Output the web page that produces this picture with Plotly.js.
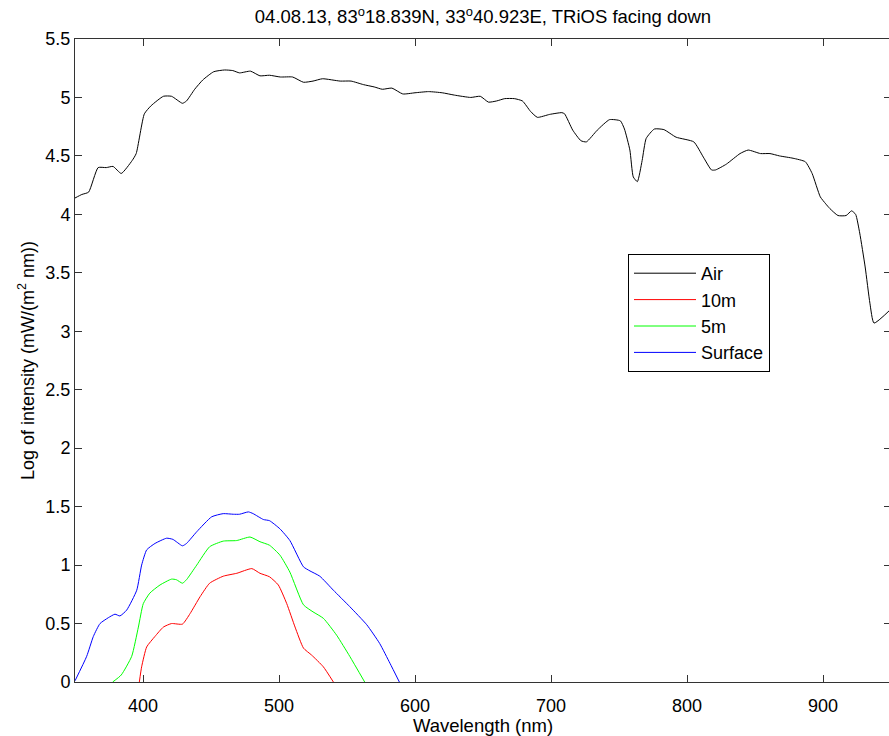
<!DOCTYPE html>
<html>
<head>
<meta charset="utf-8">
<script src="https://cdn.plot.ly/plotly-3.0.1.min.js"></script>
<style>
html, body { margin: 0; padding: 0; background: #fff; overflow: hidden; }
#chart { width: 892px; height: 736px; }
</style>
</head>
<body>
<div id="chart"></div>
<script>
// Wavelength (nm) and log intensity values
const airX = [350, 355, 360, 367, 373, 378, 384, 392, 395, 401, 406, 415, 421, 429, 432, 438, 444, 452, 460, 466, 471, 479, 486, 493, 501, 510, 518, 525, 532, 545, 553, 562, 570, 576, 583, 591, 600, 610, 620, 629, 641, 648, 654, 660, 666, 673, 679, 685, 690, 699, 708, 710, 716, 722, 726, 734, 743, 751, 754, 758, 760.5, 763.5, 767, 770, 776, 783, 792, 805, 812, 818, 821, 829, 839, 845, 854, 861, 868, 878, 887, 892, 898, 902, 905, 911, 917, 921, 924, 927, 931, 934.5, 937.5, 950];
const airY = [4.14, 4.17, 4.19, 4.40, 4.40, 4.41, 4.35, 4.46, 4.52, 4.86, 4.93, 5.01, 5.01, 4.95, 4.97, 5.07, 5.15, 5.22, 5.235, 5.23, 5.21, 5.225, 5.185, 5.19, 5.175, 5.175, 5.13, 5.14, 5.16, 5.14, 5.14, 5.11, 5.09, 5.07, 5.08, 5.03, 5.04, 5.05, 5.04, 5.02, 5.00, 5.01, 4.96, 4.97, 4.99, 4.99, 4.97, 4.88, 4.83, 4.855, 4.87, 4.86, 4.72, 4.63, 4.62, 4.72, 4.81, 4.80, 4.73, 4.55, 4.32, 4.28, 4.46, 4.65, 4.73, 4.725, 4.66, 4.62, 4.49, 4.38, 4.38, 4.43, 4.52, 4.55, 4.52, 4.52, 4.50, 4.48, 4.45, 4.35, 4.15, 4.09, 4.05, 3.99, 3.99, 4.03, 4.00, 3.84, 3.55, 3.24, 3.07, 3.19];

const m10X = [397.3, 399, 402.7, 408.8, 415, 421, 429, 434.6, 442, 449, 459, 469, 480, 486, 493, 499.5, 505.7, 511.8, 518, 524, 532.6, 540];
const m10Y = [0, 0.13, 0.30, 0.39, 0.47, 0.50, 0.495, 0.585, 0.73, 0.845, 0.905, 0.93, 0.97, 0.93, 0.90, 0.83, 0.67, 0.47, 0.29, 0.23, 0.13, 0];

const m5X = [377.7, 384, 391.7, 396.6, 400.2, 405, 412.5, 421, 424.5, 429, 432, 439.5, 449, 459, 468.9, 478.7, 486, 493, 500.7, 508, 518, 525, 532.6, 542.4, 552, 563];
const m5Y = [0, 0.06, 0.22, 0.47, 0.67, 0.76, 0.83, 0.88, 0.875, 0.845, 0.875, 1.0, 1.157, 1.205, 1.21, 1.24, 1.20, 1.17, 1.085, 0.94, 0.66, 0.60, 0.545, 0.40, 0.22, 0];

const surfX = [350, 358.6, 363.5, 368.4, 374.5, 379.4, 383, 388, 395.4, 399, 402.7, 408.8, 417.4, 422, 429, 432, 439.5, 450.5, 459, 466.4, 471, 477.5, 481, 488.5, 493, 500.7, 508, 518, 522.8, 530, 540, 552, 564.5, 574, 581.6, 588.5];
const surfY = [0.01, 0.22, 0.39, 0.50, 0.55, 0.58, 0.565, 0.615, 0.785, 1.0, 1.13, 1.185, 1.23, 1.22, 1.165, 1.185, 1.285, 1.413, 1.44, 1.435, 1.435, 1.455, 1.44, 1.39, 1.38, 1.31, 1.21, 0.985, 0.95, 0.905, 0.785, 0.645, 0.49, 0.33, 0.16, 0];

const seriesNames = ["Air", "10m", "5m", "Surface"];
const seriesColors = ["#000000", "#ff0000", "#00ff00", "#0000ff"];
const xTicks = [400, 500, 600, 700, 800, 900];
const yTicks = [0, 0.5, 1, 1.5, 2, 2.5, 3, 3.5, 4, 4.5, 5, 5.5];
const yTickText = ["0", "0.5", "1", "1.5", "2", "2.5", "3", "3.5", "4", "4.5", "5", "5.5"];

const xs = [airX, m10X, m5X, surfX];
const ys = [airY, m10Y, m5Y, surfY];

const traces = seriesNames.map((name, i) => ({
  x: xs[i], y: ys[i], name: name, type: 'scatter', mode: 'lines',
  line: { color: seriesColors[i], width: 1, shape: 'spline', smoothing: 0.5 }
}));

const FONT = "Liberation Sans, Arial, sans-serif";

const layout = {
  width: 892, height: 736,
  margin: { l: 75, r: 1, t: 39, b: 54 },
  paper_bgcolor: '#ffffff', plot_bgcolor: '#ffffff',
  font: { family: FONT, size: 18, color: '#000' },
  title: {
    text: "04.08.13, 83<sup>o</sup>18.839N, 33<sup>o</sup>40.923E, TRiOS facing down",
    font: { family: FONT, size: 18.5, color: '#000' },
    x: 0.5, xref: 'paper', y: 1 - 17 / 736, yref: 'container', yanchor: 'middle'
  },
  xaxis: {
    range: [350, 950], tickvals: xTicks, ticktext: xTicks.map(String),
    ticks: 'inside', ticklen: 7, tickcolor: '#333', tickwidth: 1,
    showline: true, linecolor: '#333', linewidth: 1, mirror: 'ticks',
    showgrid: false, zeroline: false,
    tickfont: { family: FONT, size: 18, color: '#000' },
    ticklabelstandoff: 7,
    title: { text: "Wavelength (nm)", font: { family: FONT, size: 18.5, color: '#000' }, standoff: 0 }
  },
  yaxis: {
    range: [0, 5.5], tickvals: yTicks, ticktext: yTickText,
    ticks: 'inside', ticklen: 7, tickcolor: '#333', tickwidth: 1,
    showline: true, linecolor: '#333', linewidth: 1, mirror: 'ticks',
    showgrid: false, zeroline: false,
    tickfont: { family: FONT, size: 18, color: '#000' },
    title: { text: "Log of intensity (mW/(m<sup>2</sup> nm))", font: { family: FONT, size: 18, color: '#000' }, standoff: 6 }
  },
  legend: {
    x: (628 - 75) / 816, y: (682 - 254) / 643, xanchor: 'left', yanchor: 'top',
    bgcolor: '#ffffff', bordercolor: '#000000', borderwidth: 1,
    font: { family: FONT, size: 18, color: '#000' },
    tracegroupgap: 0, itemwidth: 62
  },
  showlegend: true
};

Plotly.newPlot('chart', traces, layout, { displayModeBar: false, staticPlot: true });
</script>
</body>
</html>
